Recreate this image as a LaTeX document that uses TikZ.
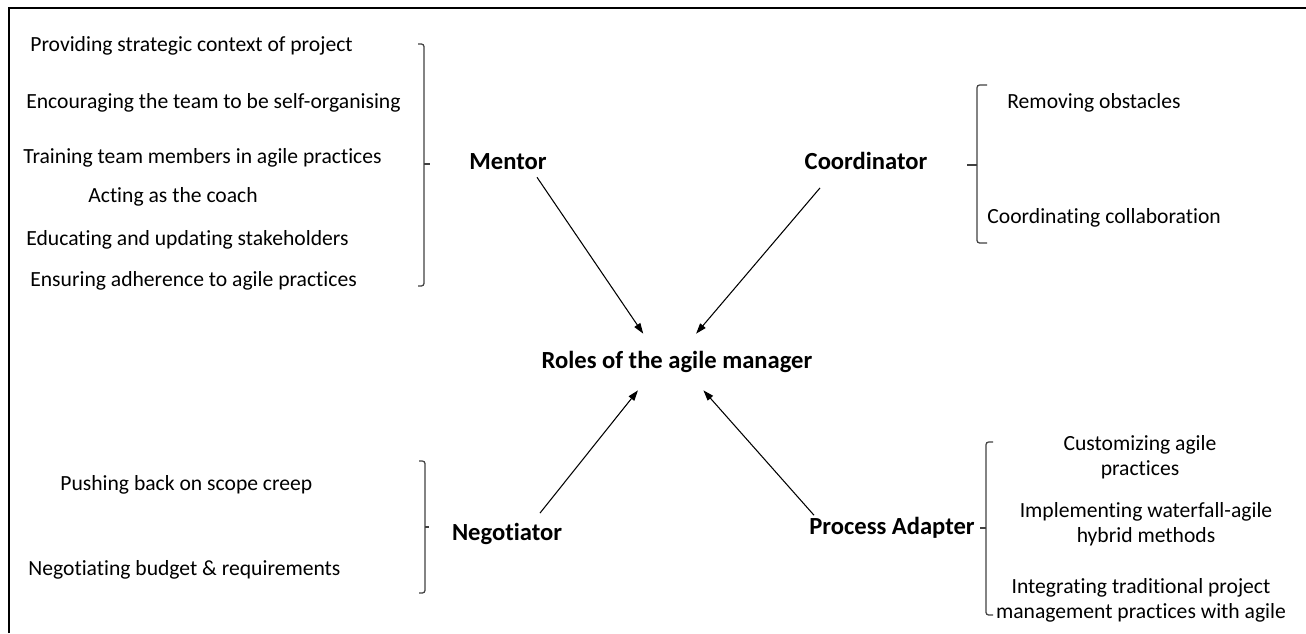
\documentclass[tikz,border=0pt]{standalone}
\usepackage{fontspec}
\setmainfont{Carlito}[Ligatures=NoCommon]
\usetikzlibrary{arrows.meta}

\tikzset{
  duty/.style={inner sep=0pt, font=\fontsize{12.3}{14.2}\selectfont},
  role/.style={font=\bfseries\fontsize{14}{16}\selectfont},
  brace/.style={line width=0.7pt, black!75, rounded corners=1.5pt},
  arr/.style={line width=0.6pt, -{Triangle[length=6pt,width=4pt]}}
}

\begin{document}
\begin{tikzpicture}[x=0.02cm, y=-0.02cm]
        \useasboundingbox (0,0) rectangle (1306,633);
        \draw[line width=1.1pt] (9,633) -- (9,8) -- (1306,8);

        % roles
        \node[role, minimum height=1.12cm] (roles) at (677,362) {Roles of the agile manager};
        \node[role] (mentor) at (508,162) {Mentor};
        \node[role] (coord) at (866,161) {Coordinator};
        \node[role] (neg) at (507,534) {Negotiator};
        \node[role] (adapter) at (892,528) {Process Adapter};

        \draw[arr] ([shift={(29,1)}]mentor.south) -- (roles.140);
        \draw[arr] ([shift={(-46,12)}]coord.south) -- (roles.56);
        \draw[arr] ([shift={(33,-4)}]neg.north) -- (roles.216);
        \draw[arr] ([shift={(-78,4)}]adapter.north) -- (roles.313);

        % mentor duties
        \node[duty, anchor=west] (m1) at (30,46) {Providing strategic context of project};
        \node[duty, anchor=west] (m2) at (26,103) {Encouraging the team to be self-organising};
        \node[duty, anchor=west] (m3) at (23,158) {Training team members in agile practices};
        \node[duty, anchor=west] (m4) at (88,197) {Acting as the coach};
        \node[duty, anchor=west] (m5) at (26,240) {Educating and updating stakeholders};
        \node[duty, anchor=west] (m6) at (30,281) {Ensuring adherence to agile practices};
        \draw[brace] (418,44) -- (424,44) -- (424,286) -- (418,286);
        \draw[brace] (424,164) -- (430,164);

        % coordinator duties
        \node[duty, anchor=west] (c1) at (1007,103) {Removing obstacles};
        \node[duty, anchor=west] (c2) at (987,218) {Coordinating collaboration};
        \draw[brace] (987,85) -- (977,85) -- (977,243) -- (987,243);
        \draw[brace] (977,165) -- (967,165);

        % negotiator duties
        \node[duty, anchor=west] (n1) at (60,485) {Pushing back on scope creep};
        \node[duty, anchor=west] (n2) at (28,570) {Negotiating budget \& requirements};
        \draw[brace] (419,461) -- (425,461) -- (425,593) -- (419,593);
        \draw[brace] (425,527) -- (429,527);

        % process adapter duties
        \node[duty, align=center] (p1) at (1140,457) {Customizing agile\\practices};
        \node[duty, align=center] (p2) at (1146,524) {Implementing waterfall-agile\\hybrid methods};
        \node[duty, align=center] (p3) at (1141,600) {Integrating traditional project\\management practices with agile};
        \draw[brace] (993,442) -- (986,442) -- (986,615) -- (993,615);
        \draw[brace] (986,528) -- (980,528);
\end{tikzpicture}
\end{document}
